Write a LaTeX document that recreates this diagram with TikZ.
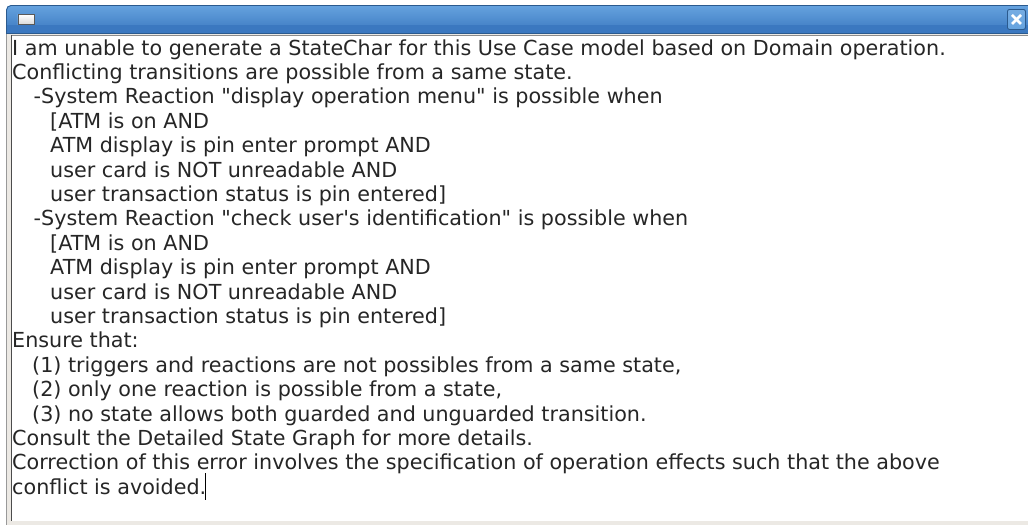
\documentclass[tikz,border=0pt]{standalone}
\usepackage{fontspec}
\setmainfont{DejaVu Sans}[Ligatures=TeXOff]
\definecolor{barTop}{HTML}{66A3DF}
\definecolor{barBot}{HTML}{3B78C0}
\definecolor{barEdge}{HTML}{2B5A8E}
\definecolor{panel}{HTML}{ECE9E4}
\definecolor{txt}{HTML}{262626}
\begin{document}
\begin{tikzpicture}[x=1pt,y=-1pt,
  line/.style={anchor=base west,inner sep=0pt,text=txt,
    font=\fontsize{20.7}{24.4}\selectfont},
]
\useasboundingbox (0,0) rectangle (1028,525);
\fill[white] (0,0) rectangle (1028,525);

% window frame and panel
\fill[panel] (6,30) rectangle (1028,525);
\draw[gray!80,line width=0.8pt] (6.5,30) -- (6.5,525);
% text area
\fill[white] (11,35) rectangle (1028,521);
\draw[black!70,line width=1pt] (11.5,35) -- (11.5,521);
\draw[black!45,line width=0.6pt] (11.5,35.3) -- (1028,35.3);

% title bar
\shade[top color=barTop,bottom color=barBot,rounded corners=5pt]
  (6,5) rectangle (1040,33);
\fill[barBot] (6,25) rectangle (1028,33);
\draw[barEdge,line width=0.8pt,rounded corners=5pt]
  (6.4,33) -- (6.4,5.4) -- (1040,5.4);
\draw[barEdge,line width=0.8pt] (6,33.2) -- (1028,33.2);

% window menu icon
\node[draw=black!65,line width=0.8pt,top color=white,bottom color=black!15,
  minimum width=16pt,minimum height=10pt,inner sep=0pt,anchor=north west]
  (icon) at (17.5,14) {};

% close button
\node[draw=barEdge,line width=0.9pt,rounded corners=2pt,
  top color=barTop!90!white,bottom color=barTop,
  minimum width=18pt,minimum height=20pt,inner sep=0pt,anchor=north west]
  (close) at (1007,9) {};
\draw[white,line width=2.6pt] ([shift={(-4.5,-4.5)}]close.center) -- ([shift={(4.5,4.5)}]close.center);
\draw[white,line width=2.6pt] ([shift={(-4.5,4.5)}]close.center) -- ([shift={(4.5,-4.5)}]close.center);

% message text
\node[line] (l1) at (12,55.0) {I am unable to generate a StateChar for this Use Case model based on Domain operation.};
\node[line] (l2) at (12,79.4) {Conflicting transitions are possible from a same state.};
\node[line] (l3) at (33.5,103.8) {-System Reaction "display operation menu" is possible when};
\node[line] (l4) at (50,128.2) {[ATM is on AND};
\node[line] (l5) at (50,152.6) {ATM display is pin enter prompt AND};
\node[line] (l6) at (50,177.0) {user card is NOT unreadable AND};
\node[line] (l7) at (50,201.4) {user transaction status is pin entered]};
\node[line] (l8) at (33.5,225.8) {-System Reaction "check user's identification" is possible when};
\node[line] (l9) at (50,250.2) {[ATM is on AND};
\node[line] (l10) at (50,274.6) {ATM display is pin enter prompt AND};
\node[line] (l11) at (50,299.0) {user card is NOT unreadable AND};
\node[line] (l12) at (50,323.4) {user transaction status is pin entered]};
\node[line] (l13) at (12,347.8) {Ensure that:};
\node[line] (l14) at (32,372.2) {(1) triggers and reactions are not possibles from a same state,};
\node[line] (l15) at (32,396.6) {(2) only one reaction is possible from a state,};
\node[line] (l16) at (32,421.0) {(3) no state allows both guarded and unguarded transition.};
\node[line] (l17) at (12,445.4) {Consult the Detailed State Graph for more details.};
\node[line] (l18) at (12,469.8) {Correction of this error involves the specification of operation effects such that the above};
\node[line] (l19) at (12,494.2) {conflict is avoided.};

% text cursor
\draw[black,line width=1pt] ([xshift=-0.5pt]l19.base east) ++(0,-21) -- ++(0,27);
\end{tikzpicture}
\end{document}
